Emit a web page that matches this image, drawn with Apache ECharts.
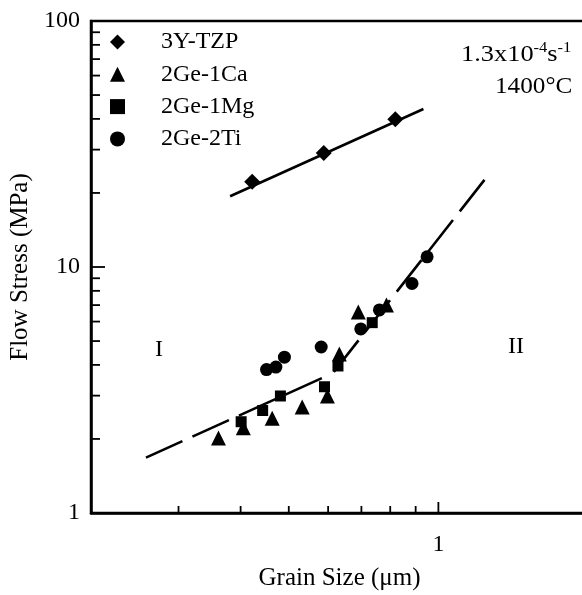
<!DOCTYPE html>
<html>
<head>
<meta charset="utf-8">
<script src="https://cdn.jsdelivr.net/npm/echarts@6/dist/echarts.min.js"></script>
<style>
html,body{margin:0;padding:0;background:#fff;}
#chart{width:582px;height:595px;}
</style>
</head>
<body>
<div id="chart"></div>
<script>
// ---- data ----
const seriesNames = ['3Y-TZP', '2Ge-1Ca', '2Ge-1Mg', '2Ge-2Ti'];
const tzp = [[0.422, 22.2], [0.588, 29.1], [0.819, 39.9]];
const ca = [[0.361, 2.02], [0.405, 2.22], [0.463, 2.43], [0.532, 2.70], [0.598, 2.99], [0.632, 4.43], [0.690, 6.56], [0.786, 7.01]];
const mg = [[0.401, 2.35], [0.443, 2.61], [0.481, 2.99], [0.590, 3.26], [0.628, 3.96], [0.736, 5.94]];
const ti = [[0.451, 3.83], [0.471, 3.92], [0.490, 4.30], [0.581, 4.73], [0.698, 5.60], [0.761, 6.69], [0.885, 8.57], [0.949, 11.0]];
const tzpFit = [[0.381, 19.4], [0.933, 43.9]];
const regionIFit = [[0.258, 1.68], [0.584, 3.54]];
const regionIIFit = [[1.238, 22.6], [0.609, 3.64]];
const xMin = 0.2, xMax = 2, yMin = 1, yMax = 100;
const xMinorTicks = [0.3, 0.4, 0.5, 0.6, 0.7, 0.8, 0.9];
const xMajorTicks = [1];
const yMinorTicks = [2, 3, 4, 5, 6, 7, 8, 9, 20, 30, 40, 50, 60, 70, 80, 90];
const yMajorTicks = [10];
const xLabelValues = [1];
const yLabelValues = [1, 10, 100];
const xTitle = 'Grain Size (\u03bcm)';
const yTitle = 'Flow Stress (MPa)';
const rateText = '{n|1.3x10}{s|-4}{n|s}{s|-1}';
const tempText = '1400\u00b0C';
const regionLabels = ['I', 'II'];

// ---- chart ----
const FONT = "'Liberation Serif','Times New Roman',serif";
const FS = 24;
const chart = echarts.init(document.getElementById('chart'), null, {renderer: 'canvas'});
const near = (v, arr) => arr.some(a => Math.abs(v - a) / a < 1e-6);

const lineStyleSolid = {color: '#000', width: 2.6, type: 'solid'};
const lineStyleDash = {color: '#000', width: 2.6, type: [40, 11]};
const blk = {color: '#000', opacity: 1};

function tickSeries(name, data, size, offset) {
  return {type: 'scatter', name: name, data: data, symbol: 'rect', symbolSize: size, symbolOffset: offset,
          itemStyle: blk, silent: true, clip: false, z: 5, emphasis: {disabled: true}};
}

const option = {
  animation: false,
  backgroundColor: '#fff',
  grid: {left: 91, top: 21, width: 497, height: 492, show: true, borderColor: '#000', borderWidth: 2.5,
         containLabel: false, outerBoundsMode: 'none'},
  xAxis: {
    type: 'log', logBase: 10, min: xMin, max: xMax,
    name: xTitle, nameLocation: 'middle', nameGap: 53,
    nameTextStyle: {fontFamily: FONT, fontSize: 25, color: '#000'},
    axisLine: {lineStyle: {color: '#000', width: 2.5}},
    axisTick: {show: false},
    splitLine: {show: false},
    axisLabel: {
      margin: 20, fontFamily: FONT, fontSize: FS, color: '#000',
      formatter: v => near(v, xLabelValues) ? String(Math.round(v)) : ''
    }
  },
  yAxis: {
    type: 'log', logBase: 10, min: yMin, max: yMax,
    name: yTitle, nameLocation: 'middle', nameGap: 49,
    nameTextStyle: {fontFamily: FONT, fontSize: 25, color: '#000'},
    axisLine: {lineStyle: {color: '#000', width: 2.5}},
    axisTick: {show: false},
    splitLine: {show: false},
    axisLabel: {
      margin: 11, fontFamily: FONT, fontSize: FS, color: '#000',
      formatter: v => near(v, yLabelValues) ? String(Math.round(v)) : ''
    }
  },
  legend: {
    data: seriesNames,
    orient: 'vertical', left: 110, top: 30, padding: 0,
    itemWidth: 15, itemHeight: 15, itemGap: 8.3,
    textStyle: {fontFamily: FONT, fontSize: FS, color: '#000', padding: [0, 0, 0, 31]},
    selectedMode: false
  },
  graphic: [
    {type: 'text', x: 461, y: 41, scaleX: 1.1, style: {
      text: rateText, fill: '#000', font: FS + 'px ' + FONT,
      rich: {n: {fontSize: FS, fontFamily: FONT, fill: '#000', verticalAlign: 'bottom', lineHeight: 26},
             s: {fontSize: 15, fontFamily: FONT, fill: '#000', verticalAlign: 'top', lineHeight: 26}}
    }},
    {type: 'text', x: 495, y: 75, scaleX: 1.05, style: {text: tempText, fill: '#000', font: FS + 'px ' + FONT}},
    {type: 'text', x: 155, y: 338, style: {text: regionLabels[0], fill: '#000', font: FS + 'px ' + FONT}},
    {type: 'text', x: 508, y: 335, style: {text: regionLabels[1], fill: '#000', font: FS + 'px ' + FONT}}
  ],
  series: [
    {type: 'line', name: 'tzpFit', data: tzpFit, symbol: 'none', lineStyle: lineStyleSolid, silent: true, z: 2},
    {type: 'line', name: 'fitI', data: regionIFit, symbol: 'none', lineStyle: lineStyleDash, silent: true, z: 2},
    {type: 'line', name: 'fitII', data: regionIIFit, symbol: 'none', lineStyle: lineStyleDash, silent: true, z: 2},
    {type: 'scatter', name: seriesNames[0], data: tzp, symbol: 'diamond', symbolSize: 16, itemStyle: blk, z: 3},
    {type: 'scatter', name: seriesNames[1], data: ca, symbol: 'triangle', symbolSize: 15, itemStyle: blk, z: 3},
    {type: 'scatter', name: seriesNames[2], data: mg, symbol: 'rect', symbolSize: 11, itemStyle: blk, z: 3},
    {type: 'scatter', name: seriesNames[3], data: ti, symbol: 'circle', symbolSize: 13, itemStyle: blk, z: 3},
    tickSeries('xMinor', xMinorTicks.map(v => [v, yMin]), [1.8, 7], [0, '-50%']),
    tickSeries('xMajor', xMajorTicks.map(v => [v, yMin]), [1.8, 11], [0, '-50%']),
    tickSeries('yMinor', yMinorTicks.map(v => [xMin, v]), [9, 1.8], ['50%', 0]),
    tickSeries('yMajor', yMajorTicks.map(v => [xMin, v]), [14, 1.8], ['50%', 0])
  ]
};
chart.setOption(option);
</script>
</body>
</html>
